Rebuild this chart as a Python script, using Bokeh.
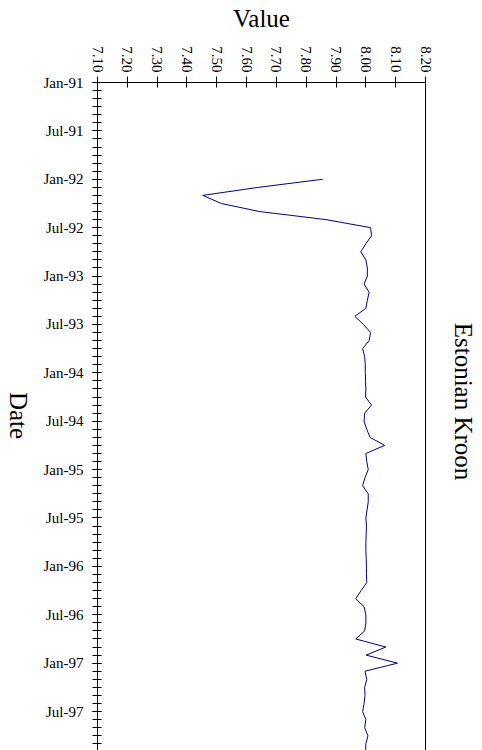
import math
from bokeh.plotting import figure
from bokeh.layouts import row
from bokeh.models import Range1d, LinearAxis, FixedTicker, NumeralTickFormatter
from bokeh.core.properties import value
from bokeh.embed import file_html
from bokeh.resources import INLINE

# ---- data ----
dates = ["1992-01", "1992-02", "1992-03", "1992-04", "1992-05", "1992-06",
         "1992-07", "1992-08", "1992-09", "1992-10", "1992-11", "1992-12",
         "1993-01", "1993-02", "1993-03", "1993-04", "1993-05", "1993-06",
         "1993-07", "1993-08", "1993-09", "1993-10", "1993-11", "1993-12",
         "1994-01", "1994-02", "1994-03", "1994-04", "1994-05", "1994-06",
         "1994-07", "1994-08", "1994-09", "1994-10", "1994-11", "1994-12",
         "1995-01", "1995-02", "1995-03", "1995-04", "1995-05", "1995-06",
         "1995-07", "1995-08", "1995-09", "1995-10", "1995-11", "1995-12",
         "1996-01", "1996-02", "1996-03", "1996-04", "1996-05", "1996-06",
         "1996-07", "1996-08", "1996-09", "1996-10", "1996-11", "1996-12",
         "1997-01", "1997-02", "1997-03", "1997-04", "1997-05", "1997-06",
         "1997-07", "1997-08", "1997-09", "1997-10", "1997-11", "1997-12"]
values = [7.855, 7.640, 7.453, 7.515, 7.643, 7.866,
          8.016, 8.019, 8.000, 7.983, 8.000, 8.005,
          8.005, 7.994, 8.011, 8.005, 8.000, 7.963,
          7.992, 8.016, 8.011, 7.989, 7.996, 7.998,
          7.998, 7.999, 8.000, 7.999, 8.019, 7.996,
          7.994, 8.003, 8.014, 8.063, 8.000, 8.003,
          8.008, 7.997, 7.989, 8.008, 8.008, 8.004,
          8.000, 8.002, 8.001, 8.000, 8.000, 8.001,
          8.002, 8.002, 8.003, 7.984, 7.966, 7.994,
          8.000, 8.000, 7.996, 7.966, 8.067, 8.001,
          8.106, 7.997, 8.003, 7.996, 7.997, 7.994,
          7.989, 8.000, 7.996, 8.007, 8.000, 7.999]
date_tick_labels = ["Jan-91", "Jul-91", "Jan-92", "Jul-92", "Jan-93", "Jul-93",
                    "Jan-94", "Jul-94", "Jan-95", "Jul-95", "Jan-96", "Jul-96",
                    "Jan-97", "Jul-97"]
value_ticks = [7.10, 7.20, 7.30, 7.40, 7.50, 7.60, 7.70, 7.80, 7.90, 8.00, 8.10, 8.20]

title_text = "Estonian Kroon"
x_label = "Value"
y_label = "Date"

FONT = "Liberation Serif"
H = 750
TOP = 82
LEFT_W = 40
RIGHT_W = 47
MAIN_W = 482 - LEFT_W - RIGHT_W


def month_index(s):
    y, m = s.split("-")
    return (int(y) - 1991) * 12 + (int(m) - 1)


def label_index(s):
    mon, yy = s.split("-")
    return (int(yy) + 1900 - 1991) * 12 + (0 if mon == "Jan" else 6)


months = [month_index(d) for d in dates]
major_pos = [label_index(s) for s in date_tick_labels]

# ---- main chart ----
p = figure(width=MAIN_W, height=H, output_backend="svg", toolbar_location=None,
           x_axis_location="above",
           x_range=Range1d(7.10, 8.20), y_range=Range1d(82.83, 0),
           min_border_left=96 - LEFT_W, min_border_right=MAIN_W - (425 - LEFT_W),
           min_border_top=TOP, min_border_bottom=0)
p.grid.visible = False
p.outline_line_color = None

p.line(values, months, line_color="#000080", line_width=1)

xa = p.xaxis[0]
xa.ticker = FixedTicker(ticks=value_ticks)
xa.formatter = NumeralTickFormatter(format="0.00")
xa.major_label_orientation = -math.pi / 2
xa.major_label_text_font = FONT
xa.major_label_text_font_size = "15px"
xa.major_label_text_color = "black"
xa.major_label_standoff = 4
xa.major_tick_in = 5
xa.major_tick_out = 6
xa.minor_tick_line_color = None
xa.axis_line_color = "black"
xa.major_tick_line_color = "black"
xa.axis_label = x_label
xa.axis_label_text_font = FONT
xa.axis_label_text_font_size = "25px"
xa.axis_label_text_font_style = "normal"
xa.axis_label_text_color = "black"
xa.axis_label_standoff = 11

ya = p.yaxis[0]
ya.ticker = FixedTicker(ticks=major_pos, minor_ticks=list(range(0, 84)))
ya.major_label_overrides = {pos: lab for pos, lab in zip(major_pos, date_tick_labels)}
ya.major_label_text_font = FONT
ya.major_label_text_font_size = "15px"
ya.major_label_text_color = "black"
ya.major_label_standoff = 9
ya.major_tick_in = 4
ya.major_tick_out = 5
ya.minor_tick_in = 4
ya.minor_tick_out = 5
ya.axis_line_color = "black"
ya.major_tick_line_color = "black"
ya.minor_tick_line_color = "black"

ra = LinearAxis(ticker=FixedTicker(ticks=[]), major_tick_line_color=None,
                minor_tick_line_color=None, major_label_text_font_size="0px",
                major_tick_out=0, major_tick_in=0, major_label_standoff=0,
                axis_line_color="black")
p.add_layout(ra, "right")

# ---- side text panels (frames are aligned with the main frame: y 82..750) ----
def side_panel(width):
    f = figure(width=width, height=H, output_backend="svg", toolbar_location=None,
               x_range=Range1d(0, width), y_range=Range1d(H, TOP),
               x_axis_type=None, y_axis_type=None,
               min_border_left=0, min_border_right=0,
               min_border_top=TOP, min_border_bottom=0)
    f.grid.visible = False
    f.outline_line_color = None
    return f


left = side_panel(LEFT_W)
left.text(x=[18], y=[415], text=[y_label], angle=-math.pi / 2,
          text_align="center", text_baseline="middle",
          text_font=value(FONT), text_font_size="25px", text_color="black")

right = side_panel(RIGHT_W)
right.text(x=[463 - (482 - RIGHT_W)], y=[401], text=[title_text], angle=-math.pi / 2,
           text_align="center", text_baseline="middle",
           text_font=value(FONT), text_font_size="25px", text_color="black")

layout = row(left, p, right, spacing=0)
open("out.html", "w").write(file_html(layout, INLINE))
